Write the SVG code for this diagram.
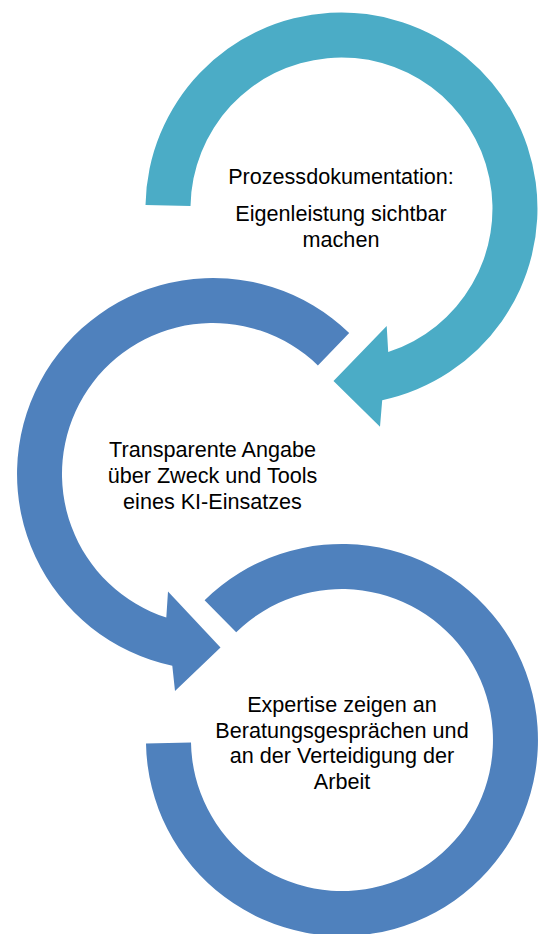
<svg xmlns="http://www.w3.org/2000/svg" width="545" height="934" viewBox="0 0 545 934">
<style>
.lbl{font-family:"Liberation Sans",Arial,sans-serif;font-size:21.6px;fill:#000;text-anchor:middle}
.teal{fill:#4BACC6}
.blue{fill:#4F81BD}
</style>
<rect width="545" height="934" fill="#fff"/>
<g id="node1">
<path class="teal" d="M 145.5,205.1 A 196 196 0 1 1 382.2,400.2 L 380,426.7 L 333.5,381 L 386.7,326 L 388.2,352.1 A 151 151 0 1 0 190.5,205.9 Z"/>
<text class="lbl" x="341" y="184">Prozessdokumentation:</text>
<text class="lbl" x="341" y="221">Eigenleistung sichtbar</text>
<text class="lbl" x="341" y="247">machen</text>
</g>
<g id="node2">
<path class="blue" d="M 349.2,333 A 196 196 0 1 0 172.3,665.7 L 175,691 L 220.5,647.5 L 168,591.5 L 166.3,617.6 A 151 151 0 1 1 317.9,365.4 Z"/>
<text class="lbl" x="212.5" y="457">Transparente Angabe</text>
<text class="lbl" x="212.5" y="483">über Zweck und Tools</text>
<text class="lbl" x="212.5" y="508.5">eines KI-Einsatzes</text>
</g>
<g id="node3">
<path class="blue" d="M 204.6,600.2 A 196 196 0 1 1 146,743.4 L 191,742.6 A 151 151 0 1 0 236.2,632.3 Z"/>
<text class="lbl" x="342" y="712">Expertise zeigen an</text>
<text class="lbl" x="342" y="737.5">Beratungsgesprächen und</text>
<text class="lbl" x="342" y="763">an der Verteidigung der</text>
<text class="lbl" x="342" y="789">Arbeit</text>
</g>
</svg>
